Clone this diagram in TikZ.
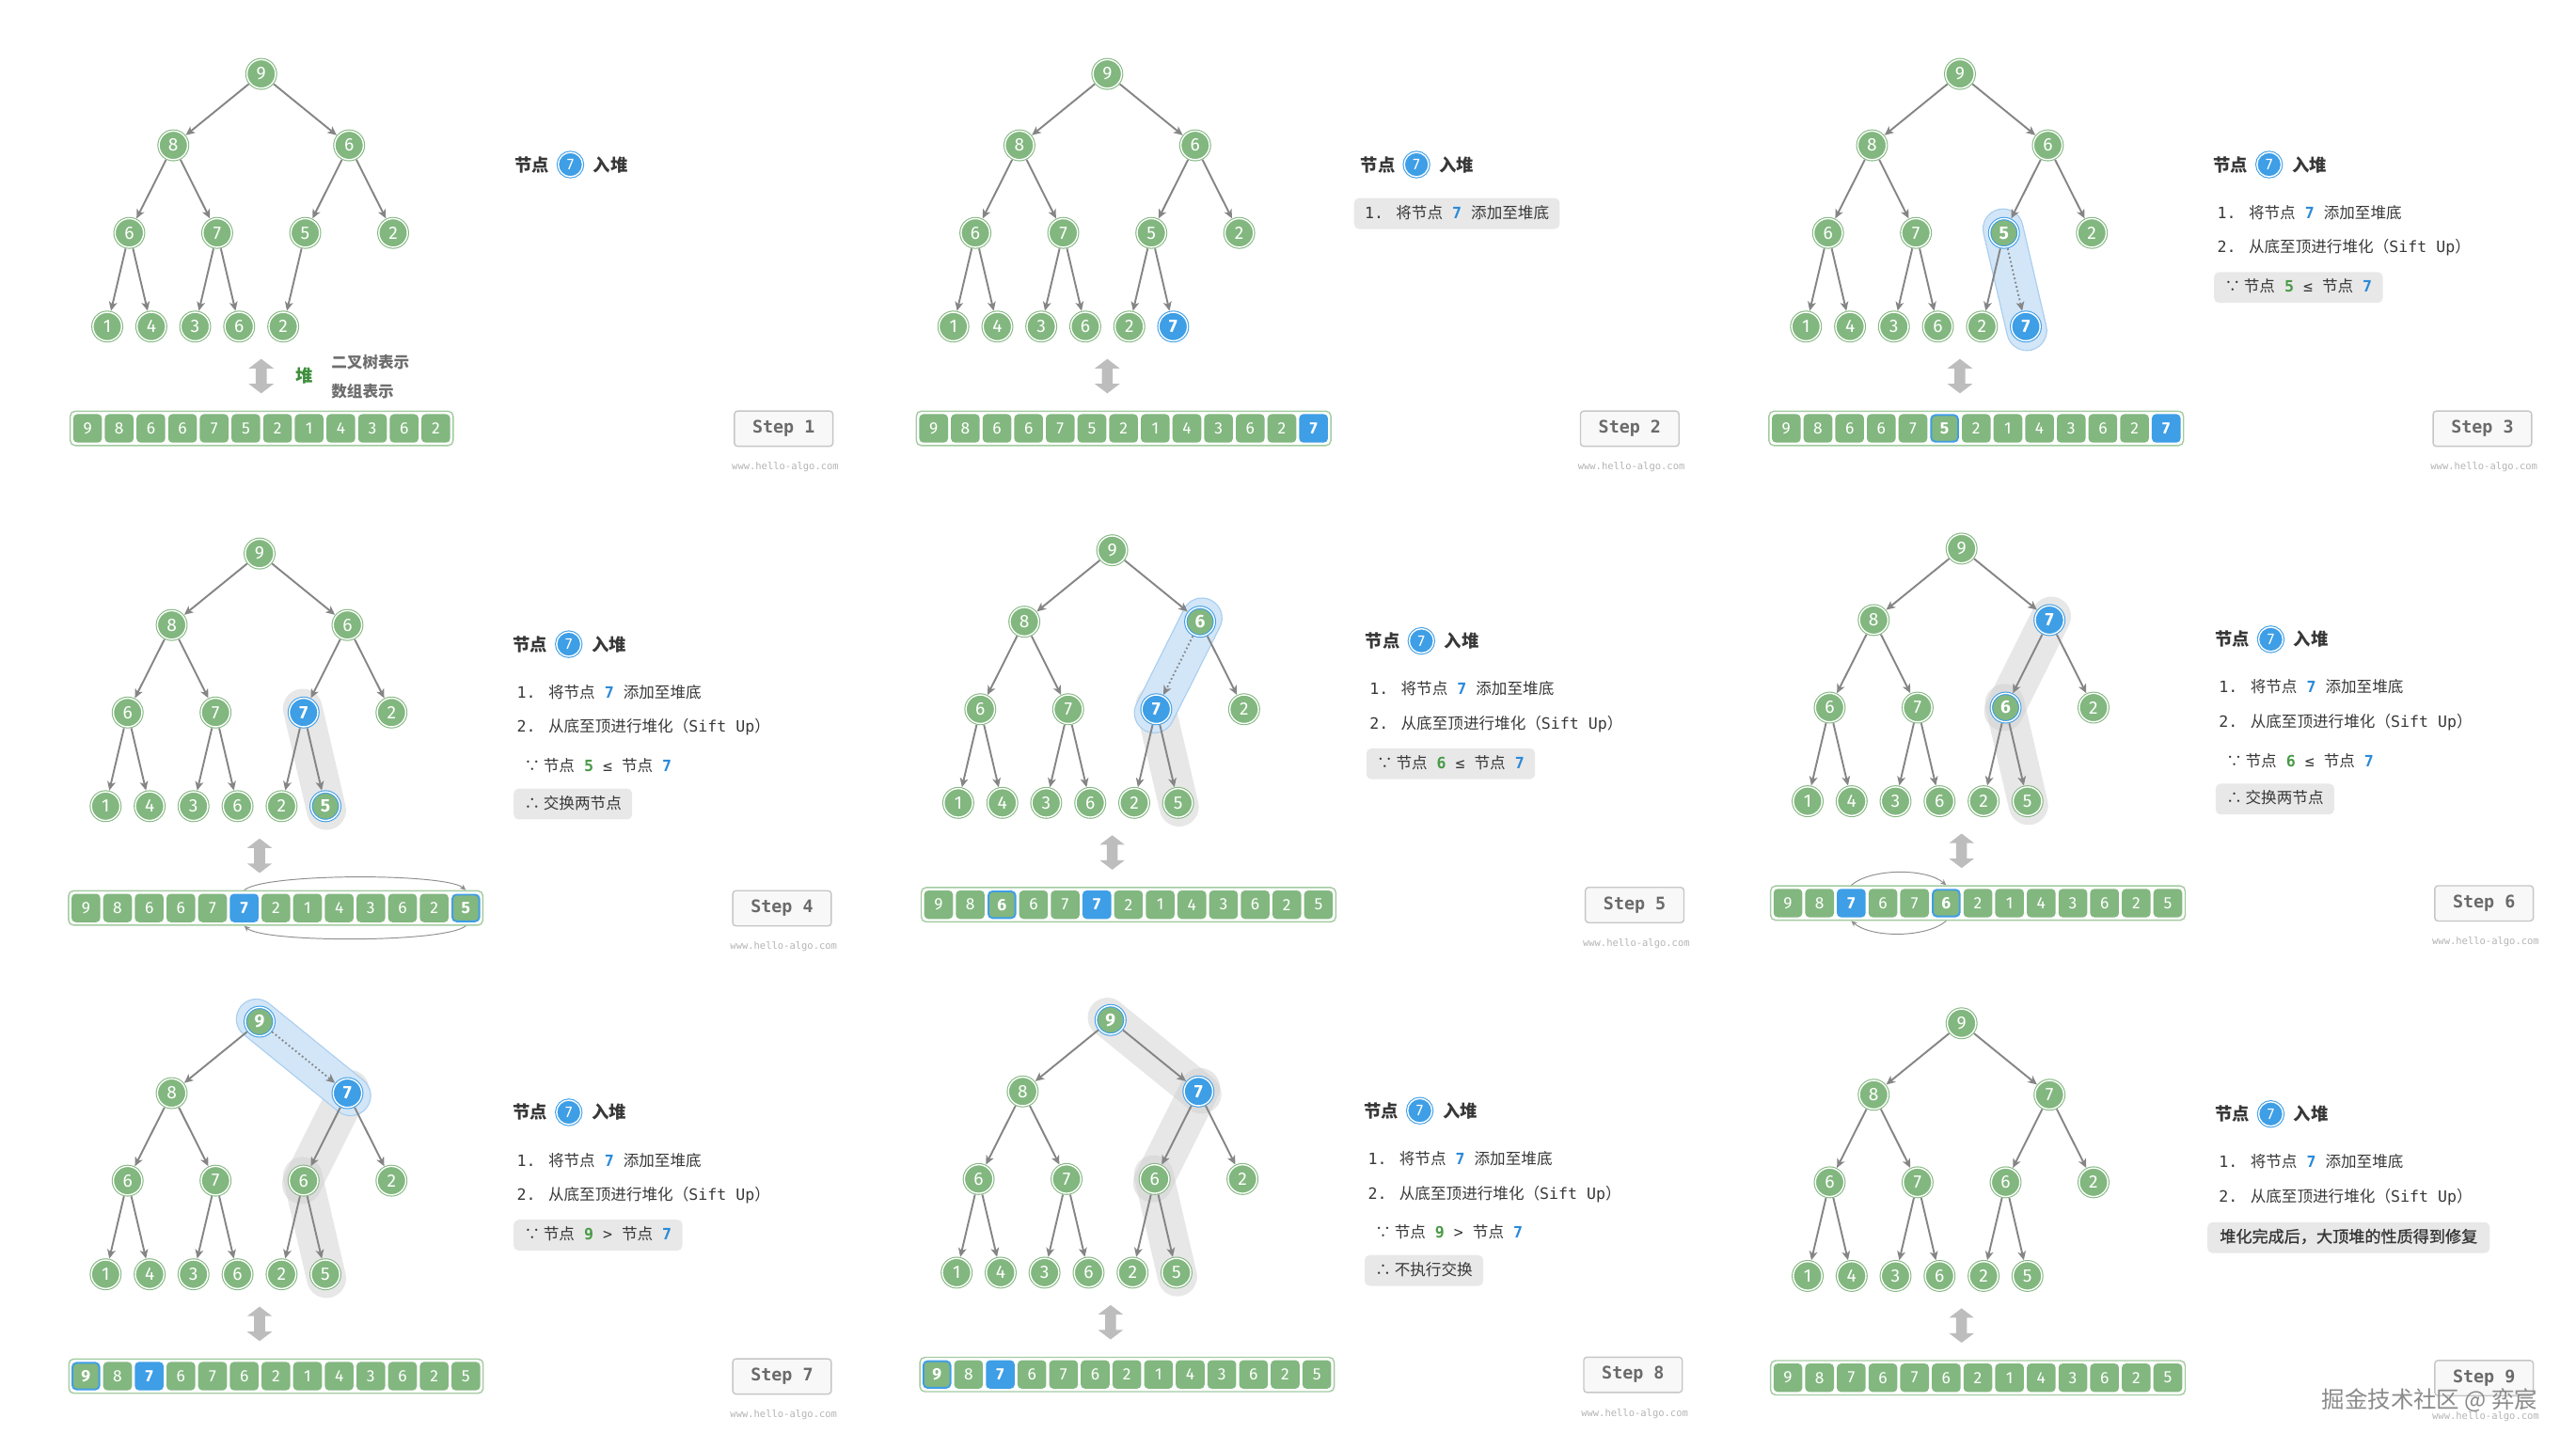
\documentclass[tikz,border=0pt]{standalone}
\usepackage{fontspec}
\setmainfont{Fira Sans}
\newfontfamily\cjk{Noto Sans CJK SC}
\newfontfamily\cjksemi[FakeBold=1.2]{Noto Sans CJK SC}
\newfontfamily\mono{DejaVu Sans Mono}
\usetikzlibrary{arrows.meta,positioning,fit}

\definecolor{ngreen}{HTML}{82B77F}
\definecolor{nblue}{HTML}{3E9EE6}
\definecolor{framegreen}{HTML}{A3CBA0}
\definecolor{edgegray}{HTML}{858585}
\definecolor{capgray}{HTML}{CFCFCF}
\definecolor{capblue}{HTML}{D2E6F8}
\definecolor{capblueb}{HTML}{A8CDEE}
\definecolor{boxgray}{HTML}{E8E8E8}
\definecolor{txtdark}{HTML}{383838}
\definecolor{numblue}{HTML}{2B8AD8}
\definecolor{numgreen}{HTML}{4A9A47}
\definecolor{heapgreen}{HTML}{3E8E3C}
\definecolor{repgray}{HTML}{6E6E6E}
\definecolor{stepborder}{HTML}{C6C6C6}
\definecolor{stepfill}{HTML}{F8F8F8}
\definecolor{steptext}{HTML}{6A6A6A}
\definecolor{wmgray}{HTML}{B3B3B3}
\definecolor{arrowgray}{HTML}{BDBDBD}
\definecolor{arcgray}{HTML}{8F8F8F}
\definecolor{jjgray}{HTML}{8A8A8A}

\tikzset{
  gnode/.style={circle, minimum size=17.4pt, inner sep=0pt, outer sep=1.1pt, fill=ngreen, draw=ngreen,
    double=white, double distance=0.8pt, line width=0.6pt, text=white, font=\fontsize{11}{12}\selectfont},
  rnode/.style={gnode, draw=nblue, font=\bfseries\fontsize{11}{12}\selectfont},
  bnode/.style={gnode, fill=nblue, draw=nblue, font=\bfseries\fontsize{11}{12}\selectfont},
  tnode/.style={gnode, fill=nblue, draw=nblue, minimum size=14.8pt, font=\fontsize{9.5}{10}\selectfont},
  gcell/.style={rectangle, rounded corners=2.5pt, minimum width=17.5pt, minimum height=17.3pt, inner sep=0pt,
    fill=ngreen, text=white, font=\fontsize{10}{12}\selectfont},
  bcell/.style={gcell, fill=nblue, font=\bfseries\fontsize{10}{12}\selectfont},
  rcell/.style={gcell, draw=nblue, line width=1.1pt, minimum width=16.4pt, minimum height=16.2pt,
    font=\bfseries\fontsize{10}{12}\selectfont},
  arrframe/.style={draw=framegreen, line width=0.8pt, rounded corners=3pt, inner sep=1.6pt},
  link/.style={draw=edgegray, line width=1.1pt, -{Stealth[length=5.5pt,width=5pt,inset=1.5pt]}},
  dotlink/.style={dash pattern=on 1pt off 1.6pt},
  graycap/.style={draw=capgray, draw opacity=0.5, line width=24pt, line cap=round,
    shorten <=-2.5pt, shorten >=-2.5pt},
  bluecap/.style={draw=capblueb, double=capblue, double distance=23.6pt, line width=0.7pt, line cap=round,
    shorten <=-2.5pt, shorten >=-2.5pt},
  updown/.style={fill=arrowgray},
  swaparc/.style={draw=arcgray, line width=0.55pt, -{Stealth[length=3.6pt,width=3.2pt]}},
  titletext/.style={anchor=west, inner sep=0pt, text=txtdark, font=\cjk\bfseries\fontsize{10.5}{12}\selectfont},
  linetext/.style={anchor=west, inner xsep=6.5pt, inner ysep=4.3pt, text height=8pt, text depth=2.2pt,
    rounded corners=3pt, text=txtdark, font=\fontsize{9.5}{11}\selectfont},
  linebox/.style={linetext, fill=boxgray},
  heaplabel/.style={inner sep=0pt, text=heapgreen, font=\cjk\bfseries\fontsize{10.5}{12}\selectfont},
  reptext/.style={anchor=west, inner sep=0pt, text=repgray, font=\cjk\bfseries\fontsize{9.5}{11}\selectfont},
  stepbox/.style={draw=stepborder, fill=stepfill, line width=0.8pt, rounded corners=2pt, minimum width=60pt,
    minimum height=21.5pt, inner sep=0pt, text=steptext, font=\mono\bfseries\fontsize{10.5}{12}\selectfont},
  hello/.style={inner sep=0pt, text=wmgray, font=\mono\fontsize{6}{7}\selectfont},
  jjtext/.style={inner sep=0pt, text=jjgray, font=\cjk\fontsize{14}{16}\selectfont}
}

% tree slots, relative to the root
\newcommand\heappos[1]{%
  \foreach \i/\px/\py in {0/0/0,1/-53.5/43.5,2/53.5/43.5,3/-80.3/96.8,4/-26.8/96.8,5/26.8/96.8,6/80.3/96.8,
      7/-93.7/153.8,8/-66.9/153.8,9/-40.2/153.8,10/-13.4/153.8,11/13.4/153.8,12/40.1/153.8}
    \coordinate (#1p\i) at (\px,\py);}

% #1 panel, #2 values, #3 ringed node, #4 blue node, #5 child of the dotted link
\newcommand\heaptree[5]{%
  \foreach \v [count=\i from 0] in {#2} {
    \ifnum\i=#3 \def\nodekind{rnode}\else\ifnum\i=#4 \def\nodekind{bnode}\else\def\nodekind{gnode}\fi\fi
    \node[\nodekind] (#1n\i) at (#1p\i) {\v};
    \xdef\lastnode{\i}}
  \foreach \c in {1,...,\lastnode} {
    \pgfmathtruncatemacro\pidx{(\c-1)/2}
    \ifnum\c=#5 \draw[link,dotlink] (#1n\pidx) -- (#1n\c);
    \else \draw[link] (#1n\pidx) -- (#1n\c); \fi}}

% #1 panel, #2 values, #3 ringed cell, #4 blue cell
\newcommand\heaparray[4]{%
  \foreach \v [count=\i from 0] in {#2} {
    \ifnum\i=#3 \def\nodekind{rcell}\else\ifnum\i=#4 \def\nodekind{bcell}\else\def\nodekind{gcell}\fi\fi
    \node[\nodekind] (#1c\i) at (-105.7+19.27*\i,215.8) {\v};
    \xdef\lastcell{\i}}
  \node[arrframe, fit=(#1c0) (#1c\lastcell)] (#1f) {};}

\newcommand\swaparcs[3]{%
  \draw[swaparc] (#1c#2 |- #1f.north) .. controls +(12,-10.5) and +(-12,-10.5) .. (#1c#3 |- #1f.north);
  \draw[swaparc] (#1c#3 |- #1f.south) .. controls +(-12,10.5) and +(12,10.5) .. (#1c#2 |- #1f.south);}

\newcommand\panelbase[2]{%
  \fill[updown] (0,173.5) -- (7.6,179.3) -- (3.3,179.3) -- (3.3,188.7) -- (7.6,188.7) -- (0,194.5)
    -- (-7.6,188.7) -- (-3.3,188.7) -- (-3.3,179.3) -- (-7.6,179.3) -- cycle;
  \node[titletext] (#1t1) at (154,55.2) {节点};
  \node[tnode, right=4.3pt of #1t1] (#1t2) {7};
  \node[titletext, right=5.3pt of #1t2] (#1t3) {入堆};
  \node[stepbox] (#1step) at (318,216) {Step #2};
  \node[hello] (#1www) at (319,239.5) {www.hello-algo.com};}

\newcommand\lineone{{\mono 1. }{\cjk 将节点}{\mono\ \textcolor{numblue}{\bfseries 7} }{\cjk 添加至堆底}}
\newcommand\linetwo{{\mono 2. }{\cjk 从底至顶进行堆化（}{\mono Sift Up}{\cjk ）}}
\newcommand\cmpline[2]{{\cjk ∵ 节点}{\mono\ \textcolor{numgreen}{\bfseries #1} #2 }{\cjk 节点}{\mono\ \textcolor{numblue}{\bfseries 7}}}
\newcommand\actline[1]{{\cjk ∴ #1}}

\begin{document}
\begin{tikzpicture}[x=1pt, y=-1pt]
\useasboundingbox (0,0) rectangle (1568,882);

% step 1
\begin{scope}[shift={(159,45)}]
  \heappos{s1}
  \heaptree{s1}{9,8,6,6,7,5,2,1,4,3,6,2}{-1}{-1}{-1}
  \heaparray{s1}{9,8,6,6,7,5,2,1,4,3,6,2}{-1}{-1}
  \panelbase{s1}{1}
  \node[heaplabel] (s1heap) at (26.3,184) {堆};
  \node[reptext] (s1tree) at (42.5,175.4) {二叉树表示};
  \node[reptext] (s1list) at (42.5,193.5) {数组表示};
\end{scope}

% step 2
\begin{scope}[shift={(674,45)}]
  \heappos{s2}
  \heaptree{s2}{9,8,6,6,7,5,2,1,4,3,6,2,7}{-1}{12}{-1}
  \heaparray{s2}{9,8,6,6,7,5,2,1,4,3,6,2,7}{-1}{12}
  \panelbase{s2}{2}
  \node[linebox] (s2l1) at (150,85) {\lineone};
\end{scope}

% step 3
\begin{scope}[shift={(1193,45)}]
  \heappos{s3}
  \draw[bluecap] (s3p5) -- (s3p12);
  \heaptree{s3}{9,8,6,6,7,5,2,1,4,3,6,2,7}{5}{12}{12}
  \heaparray{s3}{9,8,6,6,7,5,2,1,4,3,6,2,7}{5}{12}
  \panelbase{s3}{3}
  \node[linetext] (s3l1) at (150,85) {\lineone};
  \node[linetext] (s3l2) at (150,106) {\linetwo};
  \node[linebox] (s3l3) at (154.5,130) {\cmpline{5}{≤}};
\end{scope}

% step 4
\begin{scope}[shift={(158,337)}]
  \heappos{s4}
  \draw[graycap] (s4p5) -- (s4p12);
  \heaptree{s4}{9,8,6,6,7,7,2,1,4,3,6,2,5}{12}{5}{-1}
  \heaparray{s4}{9,8,6,6,7,7,2,1,4,3,6,2,5}{12}{5}
  \swaparcs{s4}{5}{12}
  \panelbase{s4}{4}
  \node[linetext] (s4l1) at (150,85) {\lineone};
  \node[linetext] (s4l2) at (150,106) {\linetwo};
  \node[linetext] (s4l3) at (154.5,130) {\cmpline{5}{≤}};
  \node[linebox] (s4l4) at (154.5,152.5) {\actline{交换两节点}};
\end{scope}

% step 5
\begin{scope}[shift={(677,335)}]
  \heappos{s5}
  \draw[graycap] (s5p5) -- (s5p12);
  \draw[bluecap] (s5p2) -- (s5p5);
  \heaptree{s5}{9,8,6,6,7,7,2,1,4,3,6,2,5}{2}{5}{5}
  \heaparray{s5}{9,8,6,6,7,7,2,1,4,3,6,2,5}{2}{5}
  \panelbase{s5}{5}
  \node[linetext] (s5l1) at (150,85) {\lineone};
  \node[linetext] (s5l2) at (150,106) {\linetwo};
  \node[linebox] (s5l3) at (154.5,130) {\cmpline{6}{≤}};
\end{scope}

% step 6
\begin{scope}[shift={(1194,334)}]
  \heappos{s6}
  \draw[graycap] (s6p2) -- (s6p5);
  \draw[graycap] (s6p5) -- (s6p12);
  \heaptree{s6}{9,8,7,6,7,6,2,1,4,3,6,2,5}{5}{2}{-1}
  \heaparray{s6}{9,8,7,6,7,6,2,1,4,3,6,2,5}{5}{2}
  \swaparcs{s6}{2}{5}
  \panelbase{s6}{6}
  \node[linetext] (s6l1) at (150,85) {\lineone};
  \node[linetext] (s6l2) at (150,106) {\linetwo};
  \node[linetext] (s6l3) at (154.5,130) {\cmpline{6}{≤}};
  \node[linebox] (s6l4) at (154.5,152.5) {\actline{交换两节点}};
\end{scope}

% step 7
\begin{scope}[shift={(158,622)}]
  \heappos{s7}
  \draw[graycap] (s7p2) -- (s7p5);
  \draw[graycap] (s7p5) -- (s7p12);
  \draw[bluecap] (s7p0) -- (s7p2);
  \heaptree{s7}{9,8,7,6,7,6,2,1,4,3,6,2,5}{0}{2}{2}
  \heaparray{s7}{9,8,7,6,7,6,2,1,4,3,6,2,5}{0}{2}
  \panelbase{s7}{7}
  \node[linetext] (s7l1) at (150,85) {\lineone};
  \node[linetext] (s7l2) at (150,106) {\linetwo};
  \node[linebox] (s7l3) at (154.5,130) {\cmpline{9}{>}};
\end{scope}

% step 8
\begin{scope}[shift={(676,621)}]
  \heappos{s8}
  \draw[graycap] (s8p0) -- (s8p2);
  \draw[graycap] (s8p2) -- (s8p5);
  \draw[graycap] (s8p5) -- (s8p12);
  \heaptree{s8}{9,8,7,6,7,6,2,1,4,3,6,2,5}{0}{2}{-1}
  \heaparray{s8}{9,8,7,6,7,6,2,1,4,3,6,2,5}{0}{2}
  \panelbase{s8}{8}
  \node[linetext] (s8l1) at (150,85) {\lineone};
  \node[linetext] (s8l2) at (150,106) {\linetwo};
  \node[linetext] (s8l3) at (154.5,130) {\cmpline{9}{>}};
  \node[linebox] (s8l4) at (154.5,152.5) {\actline{不执行交换}};
\end{scope}

% step 9
\begin{scope}[shift={(1194,623)}]
  \heappos{s9}
  \heaptree{s9}{9,8,7,6,7,6,2,1,4,3,6,2,5}{-1}{-1}{-1}
  \heaparray{s9}{9,8,7,6,7,6,2,1,4,3,6,2,5}{-1}{-1}
  \panelbase{s9}{9}
  \node[linetext] (s9l1) at (150,85) {\lineone};
  \node[linetext] (s9l2) at (150,106) {\linetwo};
  \node[linebox, inner xsep=7.5pt, font=\cjksemi\fontsize{9.8}{11}\selectfont] (s9l3) at (149.5,130.5) {堆化完成后，大顶堆的性质得到修复};
\end{scope}

% watermark
\node[jjtext] (juejin) at (1479,852.5) {掘金技术社区 @ 弈宸};
\end{tikzpicture}
\end{document}
